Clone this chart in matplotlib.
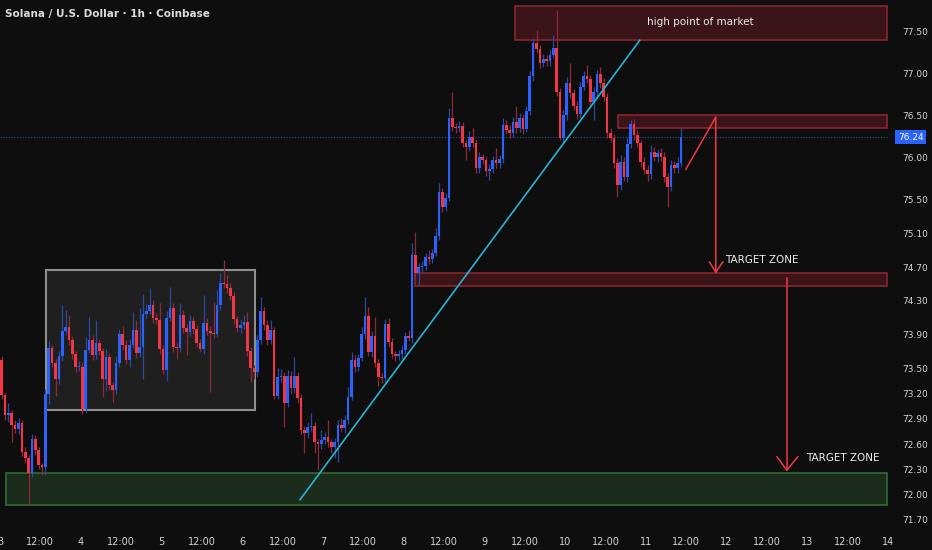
import matplotlib
matplotlib.use("Agg")
import matplotlib.pyplot as plt
import matplotlib.transforms as mtransforms
from matplotlib.patches import Rectangle
import numpy as np

# hourly closes from 3 Jun 00:00 (SOL/USD, 1h)
first_open = 73.60
closes = [
    73.18, 72.94, 72.97, 72.83, 72.78, 72.85, 72.51, 72.43, 72.26, 72.66,
    72.53, 72.35, 72.33, 73.19, 73.74, 73.56, 73.37, 73.64, 73.94, 73.99,
    73.83, 73.67, 73.51, 73.52, 73.02, 73.72, 73.83, 73.66, 73.80, 73.70,
    73.37, 73.63, 73.30, 73.24, 73.56, 73.91, 73.78, 73.60, 73.78, 73.95,
    73.68, 73.75, 74.14, 74.18, 74.25, 74.10, 74.07, 73.73, 73.48, 74.10,
    74.21, 73.75, 73.74, 74.13, 73.98, 73.93, 74.06, 73.97, 73.80, 73.73,
    74.04, 73.94, 73.92, 73.91, 74.25, 74.51, 74.50, 74.45, 74.36, 74.08,
    73.98, 74.01, 74.05, 73.70, 73.50, 73.45, 73.83, 74.18, 74.01, 73.83,
    73.95, 73.17, 73.40, 73.41, 73.09, 73.41, 73.26, 73.41, 73.15, 72.77,
    72.73, 72.80, 72.81, 72.62, 72.60, 72.65, 72.68, 72.62, 72.57, 72.62,
    72.83, 72.79, 72.89, 73.16, 73.60, 73.52, 73.62, 73.91, 74.12, 73.69,
    73.88, 73.56, 73.40, 73.38, 74.02, 73.81, 73.67, 73.65, 73.67, 73.72,
    73.88, 73.86, 74.84, 74.63, 74.70, 74.71, 74.82, 74.80, 74.87, 75.07,
    75.59, 75.41, 75.52, 76.47, 76.36, 76.35, 76.37, 76.17, 76.12, 76.24,
    76.17, 75.87, 76.00, 75.97, 75.84, 75.86, 75.97, 75.93, 75.98, 76.38,
    76.33, 76.29, 76.42, 76.35, 76.47, 76.34, 76.55, 76.97, 77.36, 77.29,
    77.12, 77.17, 77.14, 77.22, 77.30, 76.78, 76.23, 76.50, 76.88, 76.76,
    76.61, 76.52, 76.84, 76.97, 76.93, 76.66, 76.78, 76.99, 76.88, 76.72,
    76.29, 76.23, 75.93, 75.67, 75.95, 75.77, 76.16, 76.40, 76.27, 76.17,
    75.95, 75.85, 75.80, 76.07, 76.01, 76.05, 76.01, 75.77, 75.65, 75.91,
    75.87, 75.93, 76.24,
]

# wick lengths above / below the body, in cents
upper_wick = [
    4, 3, 12, 4, 5, 6, 4, 5, 4, 6,
    5, 4, 3, 6, 8, 4, 5, 6, 31, 20,
    14, 5, 4, 6, 5, 15, 28, 6, 27, 5,
    4, 10, 5, 4, 8, 6, 9, 5, 7, 22,
    12, 46, 24, 8, 20, 6, 5, 20, 4, 8,
    25, 6, 5, 14, 6, 5, 7, 5, 4, 5,
    33, 5, 6, 36, 18, 12, 27, 10, 6, 5,
    4, 6, 8, 12, 5, 4, 6, 16, 5, 6,
    12, 4, 10, 8, 5, 7, 6, 22, 5, 4,
    5, 6, 16, 5, 4, 12, 6, 21, 4, 5,
    6, 8, 6, 12, 9, 6, 5, 8, 22, 11,
    6, 23, 5, 4, 6, 8, 5, 4, 5, 6,
    5, 7, 14, 28, 5, 6, 5, 8, 5, 9,
    11, 5, 6, 12, 31, 5, 6, 5, 4, 7,
    11, 5, 6, 4, 5, 6, 5, 14, 5, 9,
    6, 5, 6, 19, 6, 5, 6, 5, 6, 15,
    5, 6, 5, 6, 15, 45, 5, 6, 7, 24,
    5, 6, 5, 6, 13, 5, 6, 5, 8, 6,
    5, 6, 5, 6, 8, 6, 7, 5, 6, 5,
    4, 5, 6, 8, 6, 5, 6, 5, 4, 6,
    5, 7, 11,
]
lower_wick = [
    5, 6, 8, 20, 5, 6, 5, 6, 38, 5,
    6, 5, 10, 10, 12, 5, 20, 6, 5, 4,
    5, 6, 5, 4, 6, 5, 4, 6, 5, 4,
    21, 14, 6, 14, 5, 4, 6, 5, 8, 4,
    6, 5, 38, 5, 4, 6, 5, 6, 5, 13,
    4, 6, 13, 5, 6, 27, 5, 6, 5, 4,
    6, 5, 70, 5, 4, 6, 5, 6, 5, 6,
    5, 6, 4, 5, 16, 8, 5, 4, 6, 5,
    4, 3, 4, 6, 29, 5, 6, 5, 6, 5,
    23, 6, 5, 13, 31, 6, 5, 6, 8, 14,
    23, 5, 6, 5, 4, 6, 5, 4, 6, 5,
    6, 5, 11, 6, 5, 6, 5, 6, 5, 6,
    5, 4, 6, 5, 14, 6, 5, 6, 5, 4,
    5, 6, 5, 4, 5, 6, 5, 5, 15, 4,
    5, 6, 6, 5, 6, 11, 5, 6, 5, 4,
    5, 6, 5, 6, 5, 6, 4, 5, 6, 5,
    6, 5, 6, 5, 4, 5, 2, 6, 5, 6,
    5, 6, 5, 4, 5, 6, 21, 5, 6, 5,
    6, 5, 6, 14, 6, 5, 6, 5, 6, 5,
    6, 5, 8, 6, 5, 6, 5, 6, 24, 5,
    6, 5, 4,
]

last_price = 76.24
y_ticks = [77.50, 77.00, 76.50, 76.00, 75.50, 75.10, 74.70, 74.30, 73.90,
           73.50, 73.20, 72.90, 72.60, 72.30, 72.00, 71.70]
x_ticks = list(range(0, 265, 12))
x_labels = ['3', '12:00', '4', '12:00', '5', '12:00', '6', '12:00', '7', '12:00',
            '8', '12:00', '9', '12:00', '10', '12:00', '11', '12:00', '12', '12:00',
            '13', '12:00', '14']

# zones (price levels)
high_zone = (77.39, 77.80)
resist_zone = (76.35, 76.50)
target_zone = (74.48, 74.63)
support_zone = (71.88, 72.26)
range_box = (73.00, 74.66)

closes = np.array(closes)
opens = np.concatenate(([first_open], closes[:-1]))
highs = np.maximum(opens, closes) + np.array(upper_wick) / 100
lows = np.minimum(opens, closes) - np.array(lower_wick) / 100
hours = np.arange(len(closes)) + 0.5
up = closes >= opens

bg = '#0e0e0e'
blue = '#2962ff'
red = '#f23645'

fig = plt.figure(figsize=(9.32, 5.5), dpi=100, facecolor=bg)
ax = fig.add_axes([0, 20 / 550, 888 / 932, 530 / 550], facecolor=bg)

# zones
ax.add_patch(Rectangle((13.7, range_box[0]), 62.1, range_box[1] - range_box[0],
                       facecolor='#1f1f1f', edgecolor='#8f8f8f', lw=1.5, zorder=1))
ax.add_patch(Rectangle((1.8, support_zone[0]), 261.9, support_zone[1] - support_zone[0],
                       facecolor='#1b2b1c', edgecolor='#2f6b33', lw=1.2, zorder=1))
for x0, zone in [(153.1, high_zone), (183.7, resist_zone), (123.4, target_zone)]:
    ax.add_patch(Rectangle((x0, zone[0]), 263.7 - x0, zone[1] - zone[0],
                           facecolor='#3a1418', edgecolor='#8a2630', lw=1.2, zorder=1))

ax.axhline(last_price, color='#2a4f9e', ls=(0, (1, 1.5)), lw=0.8, zorder=1)

# candles
wick_col = np.where(up, '#2a4a9c', '#8e2a36')
body_col = np.where(up, blue, red)
ax.vlines(hours, lows, highs, colors=wick_col, lw=0.9, zorder=2)
ax.bar(hours, np.maximum(np.abs(closes - opens), 0.012), bottom=np.minimum(opens, closes),
       width=0.78, color=body_col, linewidth=0, zorder=3)

# trend line
ax.plot([89.2, 190.2], [71.94, 77.39], color='#27b3d4', lw=1.2, zorder=4)

# projections
ax.plot([203.9, 212.8, 212.8], [75.86, 76.48, 74.64], color=red, lw=1.1, zorder=4)
ax.plot([210.9, 212.8, 214.9], [74.76, 74.64, 74.76], color=red, lw=1.1, zorder=4)
ax.plot([233.9, 233.9], [74.57, 72.29], color=red, lw=1.1, zorder=4)
ax.plot([231.0, 233.9, 237.2], [72.45, 72.29, 72.45], color=red, lw=1.1, zorder=4)

txt = dict(color='#ececec', fontsize=7.5, va='center', zorder=5)
ax.text(208.1, 77.61, 'high point of market', ha='center', **txt)
ax.text(215.5, 74.78, 'TARGET ZONE', ha='left', **txt)
ax.text(239.6, 72.43, 'TARGET ZONE', ha='left', **txt)

ax.set_xlim(0, 264)
ax.set_ylim(77.868 - 530 / 84.3, 77.868)
ax.set_xticks(x_ticks)
ax.set_xticklabels(x_labels)
ax.yaxis.tick_right()
ax.set_yticks(y_ticks)
ax.set_yticklabels([f'{v:.2f}' for v in y_ticks])
ax.tick_params(axis='both', length=0, colors='#d1d4dc', labelsize=7)
ax.tick_params(axis='y', pad=10, labelsize=6.5)
ax.tick_params(axis='x', pad=5)
for s in ax.spines.values():
    s.set_visible(False)

trans = mtransforms.blended_transform_factory(ax.transAxes, ax.transData)
ax.text(1.011, last_price, f'{last_price:.2f}', transform=trans, color='white',
        fontsize=6.5, va='center', ha='left', clip_on=False, zorder=6,
        bbox=dict(boxstyle='square,pad=0.3', facecolor=blue, edgecolor='none'))

fig.text(5 / 932, 1 - 14 / 550, 'Solana / U.S. Dollar · 1h · Coinbase',
         color='#dcdcdc', fontsize=7.5, fontweight='bold', va='center')

fig.savefig('out.png', dpi=100, facecolor=bg)
